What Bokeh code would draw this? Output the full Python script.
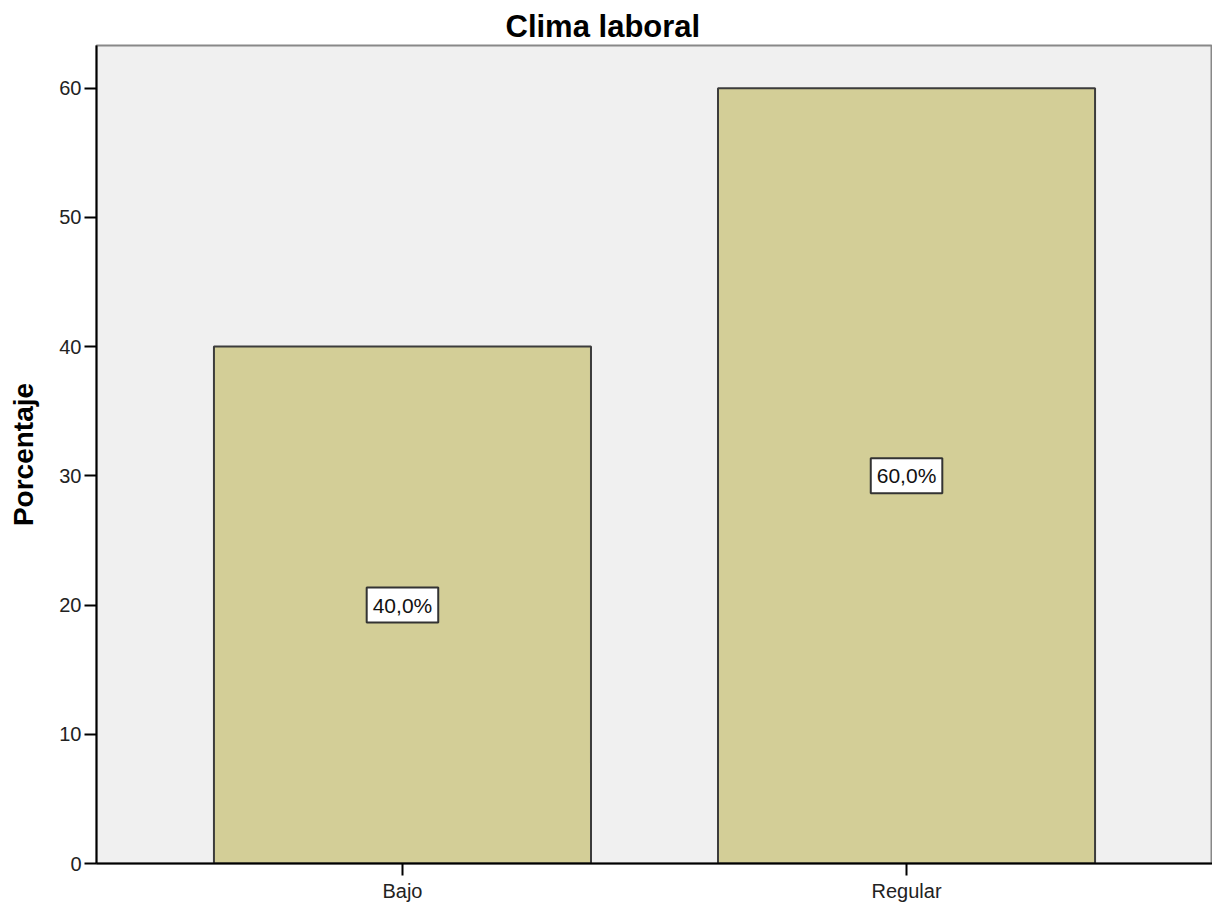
from bokeh.plotting import figure
from bokeh.models import ColumnDataSource, Range1d, FactorRange, FixedTicker, Label
from bokeh.embed import file_html
from bokeh.resources import INLINE

categories = ["Bajo", "Regular"]
percentages = [40.0, 60.0]
y_ticks = [0, 10, 20, 30, 40, 50, 60]

labels = [f"{v:.1f}%".replace(".", ",") for v in percentages]
mids = [v / 2 for v in percentages]

src = ColumnDataSource(dict(cat=categories, pct=percentages, lab=labels, mid=mids))

p = figure(
    x_range=FactorRange(factors=categories, range_padding=0.107, range_padding_units="absolute"),
    y_range=Range1d(0, 63.3),
    width=1212, height=900,
    frame_width=1116, frame_height=818,
    min_border_left=96, min_border_right=0, min_border_top=45, min_border_bottom=37,
    output_backend="svg", toolbar_location=None,
    title="Clima laboral",
)
p.background_fill_color = "#f0f0f0"
p.border_fill_color = "white"
p.outline_line_color = "#888888"
p.outline_line_width = 2
p.grid.visible = False

p.title.text_font = "Liberation Sans"
p.title.text_font_size = "31px"
p.title.text_font_style = "bold"
p.title.align = "left"
p.title.offset = 409
p.title.text_color = "black"
p.title.standoff = 4

p.vbar(x="cat", top="pct", width=0.748, source=src,
       fill_color="#d3ce97", line_color="#3c3c3c", line_width=2)

# factor i sits at synthetic coordinate i + 0.5 on the categorical range
for i, (m, t) in enumerate(zip(mids, labels)):
    p.add_layout(Label(x=i + 0.5, y=m, text=t,
                       text_align="center", text_baseline="middle",
                       text_font="Liberation Sans", text_font_size="21px",
                       text_color="#111111",
                       background_fill_color="white",
                       border_line_color="#333333", border_line_width=2,
                       padding=6))

for ax in (p.xaxis[0], p.yaxis[0]):
    ax.axis_line_color = "black"
    ax.axis_line_width = 2
    ax.major_tick_line_color = "black"
    ax.major_tick_line_width = 2
    ax.major_tick_out = 12
    ax.major_tick_in = 0
    ax.minor_tick_line_color = None
    ax.major_label_text_font = "Liberation Sans"
    ax.major_label_text_font_size = "20px"
    ax.major_label_text_color = "#222222"

p.yaxis.ticker = FixedTicker(ticks=y_ticks)
p.yaxis.axis_label = "Porcentaje"
p.yaxis.axis_label_text_font = "Liberation Sans"
p.yaxis.axis_label_text_font_size = "28px"
p.yaxis.axis_label_text_font_style = "bold"
p.yaxis.axis_label_text_color = "black"
p.yaxis.axis_label_standoff = 17
p.yaxis.major_label_standoff = 3
p.xaxis.major_label_standoff = 4

open("out.html", "w").write(file_html(p, INLINE))
